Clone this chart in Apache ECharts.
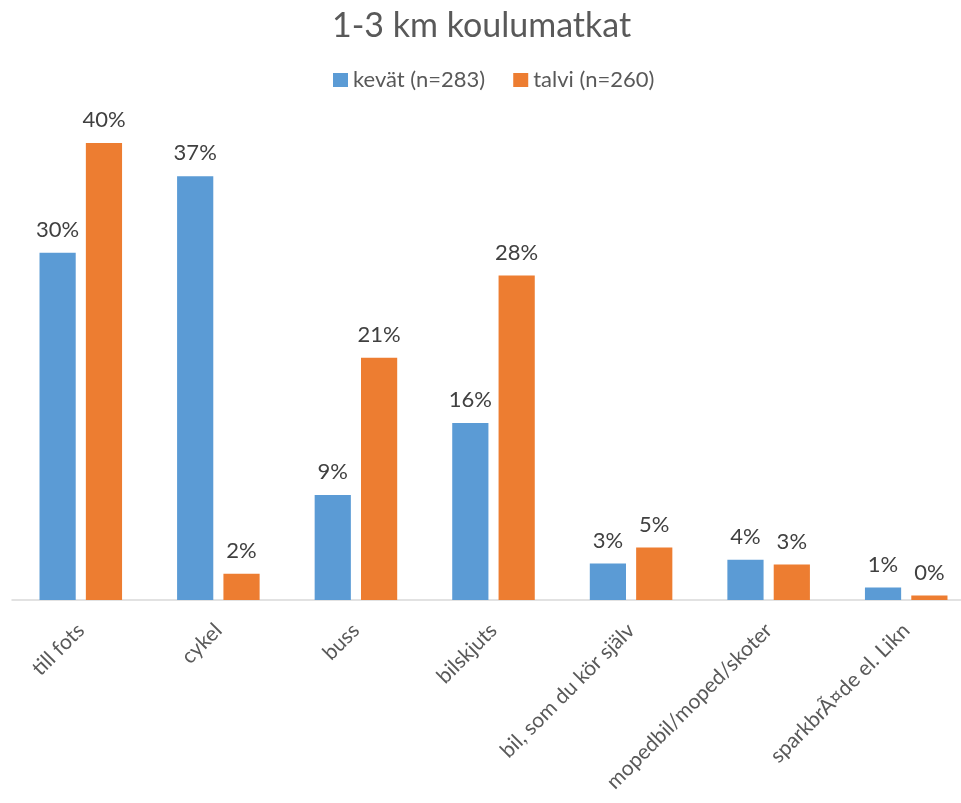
<!DOCTYPE html>
<html lang="fi">
<head>
<meta charset="UTF-8">
<title>1-3 km koulumatkat</title>
<script src="https://cdn.jsdelivr.net/npm/echarts@6/dist/echarts.min.js"></script>
<style>
  html, body { margin: 0; padding: 0; background: #fff; overflow: hidden; }
</style>
</head>
<body>
<!-- kaavio hieman ikkunaa leveämpi: viimeinen kategoria jatkuu reunan yli -->
<div id="main" style="width: 975px; height: 803px;"></div>
<script>
  // kategoriat ja arvot (%)
  var categories = [
    'till fots',
    'cykel',
    'buss',
    'bilskjuts',
    'bil, som du kör själv',
    'mopedbil/moped/skoter',
    'sparkbrÃ¤de el. Likn'
  ];
  var kevat = [30.4, 37.1, 9.2, 15.5, 3.2, 3.53, 1.1];
  var talvi = [40.0, 2.3, 21.2, 28.4, 4.6, 3.1, 0.4];
  var seriesNames = ['kevät (n=283)', 'talvi (n=260)'];

  var font = 'Lato, "Open Sans", sans-serif';
  var chart = echarts.init(document.getElementById('main'));

  function labelStyle() {
    return {
      show: true,
      position: 'top',
      distance: 12,
      color: '#404040',
      fontSize: 22,
      fontFamily: font,
      formatter: function (p) { return Math.round(p.value) + '%'; }
    };
  }

  var option = {
    animation: false,
    title: {
      text: '1-3 km koulumatkat',
      left: 327,
      top: 4,
      textStyle: { fontSize: 34, fontWeight: 'normal', color: '#595959', fontFamily: font }
    },
    legend: {
      top: 64,
      left: 328,
      itemWidth: 15,
      itemHeight: 14,
      itemGap: 28,
      icon: 'rect',
      textStyle: { fontSize: 22, color: '#595959', fontFamily: font }
    },
    grid: { left: 12, right: 0, top: 86, bottom: 203 },
    xAxis: {
      type: 'category',
      data: categories,
      axisLine: { lineStyle: { color: '#d9d9d9', width: 1.5 } },
      axisTick: { show: false },
      axisLabel: {
        rotate: 45,
        interval: 0,
        margin: 27,
        color: '#595959',
        fontSize: 21,
        fontFamily: font
      }
    },
    yAxis: {
      type: 'value',
      min: 0,
      max: 45,
      show: false
    },
    series: [
      {
        name: seriesNames[0],
        type: 'bar',
        data: kevat,
        barGap: '28%',
        barCategoryGap: '40%',
        itemStyle: { color: '#5B9BD5' },
        label: labelStyle()
      },
      {
        name: seriesNames[1],
        type: 'bar',
        data: talvi,
        itemStyle: { color: '#ED7D31' },
        label: labelStyle()
      }
    ]
  };
  chart.setOption(option);
</script>
</body>
</html>
